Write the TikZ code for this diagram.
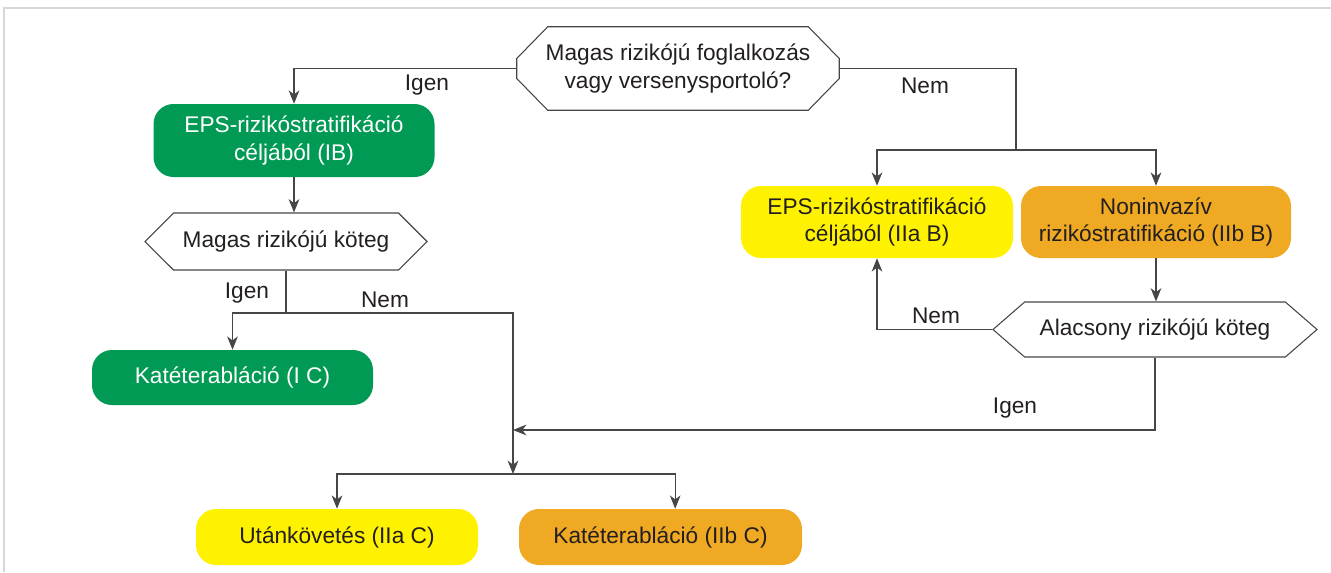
\documentclass[tikz,border=0pt]{standalone}
\usepackage{fontspec}
\setmainfont{Liberation Sans}
\usepackage{xcolor}
\usepackage{tikz}
\usetikzlibrary{shapes.symbols,arrows.meta}

\definecolor{epsgreen}{RGB}{0,154,84}
\definecolor{classyellow}{RGB}{255,242,0}
\definecolor{classorange}{RGB}{240,169,35}
\definecolor{linegray}{RGB}{70,70,70}
\definecolor{textgray}{RGB}{35,31,32}
\definecolor{framegray}{RGB}{215,215,215}

\begin{document}
\begin{tikzpicture}[x=0.75pt, y=-0.75pt]
  % Styles
  \tikzset{
    rbox/.style={rectangle, rounded corners=15pt, align=center, inner sep=0pt,
      text=textgray, font=\fontsize{17}{20.5}\selectfont},
    greenbox/.style={rbox, fill=epsgreen, text=white},
    yellowbox/.style={rbox, fill=classyellow},
    orangebox/.style={rbox, fill=classorange},
    decision/.style={signal, signal to=west and east, draw=linegray, line width=0.8pt,
      inner sep=0pt, align=center, text=textgray, font=\fontsize{17}{20.5}\selectfont},
    question/.style={rectangle, inner sep=0pt, align=center, text=textgray,
      font=\fontsize{17}{20.5}\selectfont},
    lbl/.style={text=textgray, inner sep=0pt, font=\fontsize{17}{20.5}\selectfont},
    line/.style={draw=linegray, line width=0.8pt},
    arrow/.style={line, -{Stealth[length=10pt, width=8pt, inset=3pt]}}
  }

  \useasboundingbox (0,0) rectangle (1331,572);
  \draw[framegray, line width=1.5pt] (1331,8) -- (4,8) -- (4,572);

  % Start question
  \node[question, minimum width=241.5pt, minimum height=62.25pt] (q1) at (678,68.5)
    {Magas rizikójú foglalkozás\\vagy versenysportoló?};
  \draw[line] ([xshift=23.25pt]q1.north west) -- ([xshift=-23.25pt]q1.north east)
    -- ([yshift=7.5pt]q1.east) -- ([yshift=-7.5pt]q1.east)
    -- ([xshift=-23.25pt]q1.south east) -- ([xshift=23.25pt]q1.south west)
    -- ([yshift=-7.5pt]q1.west) -- ([yshift=7.5pt]q1.west) -- cycle;

  % Left branch
  \node[greenbox, minimum width=210.75pt, minimum height=54.75pt] (g1) at (294,140.5)
    {EPS-rizikóstratifikáció\\céljából (IB)};
  \node[decision, signal pointer angle=90, minimum width=211.5pt, minimum height=42.75pt] (q2) at (286,241.5)
    {Magas rizikójú köteg};
  \node[greenbox, minimum width=210.75pt, minimum height=41.25pt] (g2) at (232.5,377.5)
    {Katéterabláció (I C)};

  % Right branch
  \node[yellowbox, minimum width=204pt, minimum height=54pt] (y1) at (877,222)
    {EPS-rizikóstratifikáció\\céljából (IIa B)};
  \node[orangebox, minimum width=202.5pt, minimum height=54pt] (o1) at (1156,222)
    {Noninvazív\\rizikóstratifikáció (IIb B)};
  \node[decision, signal pointer angle=82, minimum width=243pt, minimum height=41.25pt] (q3) at (1155,329.5)
    {Alacsony rizikójú köteg};

  % Outcomes
  \node[yellowbox, minimum width=211.5pt, minimum height=42pt] (b1) at (337,537)
    {Utánkövetés (IIa C)};
  \node[orangebox, minimum width=212.25pt, minimum height=42pt] (b2) at (660.5,537)
    {Katéterabláció (IIb C)};

  % Labels
  \node[lbl] (igen1) at (427,85) {Igen};
  \node[lbl] (nem1) at (925,86) {Nem};
  \node[lbl] (igen2) at (247,293) {Igen};
  \node[lbl] (nem2) at (385,300) {Nem};
  \node[lbl] (nem3) at (936,316) {Nem};
  \node[lbl] (igen3) at (1015,408) {Igen};

  % Coordinates
  \coordinate (split1) at (286,313);
  \coordinate (split2) at (1016,150);
  \coordinate (join) at (513,430);
  \coordinate (merge) at (513,474);

  % Arrows - left side
  \draw[arrow] (q1.west) -| (g1.north);
  \draw[arrow] (g1.south) -- (g1.south |- q2.north);
  \draw[line] (q2.south) -- (split1);
  \draw[arrow] (split1) -| (g2.north);
  \draw[arrow] (split1) -| (merge);

  % Arrows - right side
  \draw[line] (q1.east) -| (split2);
  \draw[arrow] (split2) -| (y1.north);
  \draw[arrow] (split2) -| (o1.north);
  \draw[arrow] (o1.south) -- (o1.south |- q3.north);
  \draw[arrow] (q3.west) -| (y1.south);
  \draw[arrow] (q3.south) |- (join);

  % Outcomes
  \draw[arrow] (merge) -| (b1.north);
  \draw[arrow] (merge) -| ([xshift=11pt]b2.north);

\end{tikzpicture}
\end{document}
